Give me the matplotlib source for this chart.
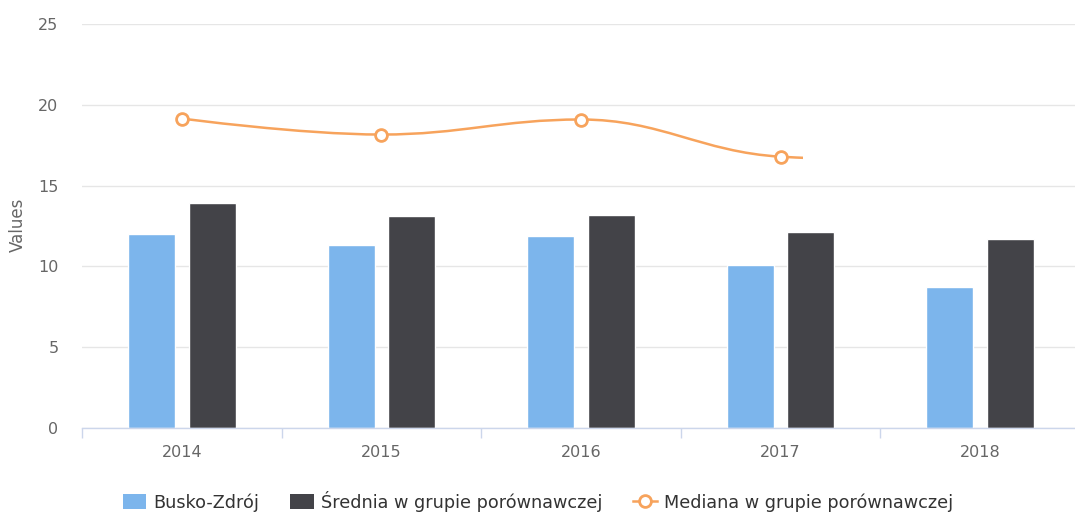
"""Busko-Zdrój vs comparison group: bars plus median spline."""

import numpy as np
import matplotlib
matplotlib.use("Agg")
import matplotlib.pyplot as plt
from matplotlib.path import Path
from matplotlib.patches import PathPatch, Patch, Rectangle
from matplotlib.lines import Line2D

years = ["2014", "2015", "2016", "2017", "2018"]
busko = [12.0, 11.32, 11.88, 10.07, 8.71]
srednia = [13.93, 13.12, 13.18, 12.13, 11.69]
mediana = [19.15, 18.16, 19.09, 16.79, 16.5]  # 2018 only partly drawn in source

labels = ["Busko-Zdrój", "Średnia w grupie porównawczej", "Mediana w grupie porównawczej"]
colors = ["#7cb5ec", "#434348", "#f7a35c"]
yticks = [0, 5, 10, 15, 20, 25]


def spline_path(xs, ys, smoothing=1.5):
    """Highcharts-style spline as a cubic bezier path."""
    n = len(xs)
    denom = smoothing + 1
    lc = [(x, y) for x, y in zip(xs, ys)]
    rc = [(x, y) for x, y in zip(xs, ys)]
    for i in range(1, n - 1):
        x, y = xs[i], ys[i]
        lx, ly = (smoothing * x + xs[i - 1]) / denom, (smoothing * y + ys[i - 1]) / denom
        rx, ry = (smoothing * x + xs[i + 1]) / denom, (smoothing * y + ys[i + 1]) / denom
        if rx != lx:
            corr = (ry - ly) * (rx - x) / (rx - lx) + y - ry
            ly += corr
            ry += corr
        if ly > ys[i - 1] and ly > y:
            ly = max(ys[i - 1], y)
            ry = 2 * y - ly
        elif ly < ys[i - 1] and ly < y:
            ly = min(ys[i - 1], y)
            ry = 2 * y - ly
        if ry > ys[i + 1] and ry > y:
            ry = max(ys[i + 1], y)
            ly = 2 * y - ry
        elif ry < ys[i + 1] and ry < y:
            ry = min(ys[i + 1], y)
            ly = 2 * y - ry
        lc[i] = (lx, ly)
        rc[i] = (rx, ry)
    verts = [(xs[0], ys[0])]
    codes = [Path.MOVETO]
    for i in range(1, n):
        verts += [rc[i - 1], lc[i], (xs[i], ys[i])]
        codes += [Path.CURVE4] * 3
    return Path(verts, codes)


fig = plt.figure(figsize=(10.75, 5.14), dpi=100)
ax = fig.add_axes([82 / 1075, 86 / 514, 998 / 1075, 404 / 514])

x = np.arange(len(years))
bw = 0.235
off = 0.152
ax.bar(x - off, busko, bw, color=colors[0], edgecolor="white", linewidth=1, zorder=2)
ax.bar(x + off, srednia, bw, color=colors[1], edgecolor="white", linewidth=1, zorder=2)

# line was caught mid-animation: clip just past 2017
clip = Rectangle((-0.5, 0), 3.61, 25, transform=ax.transData)
patch = PathPatch(spline_path(list(x), mediana), facecolor="none",
                  edgecolor=colors[2], linewidth=1.8, zorder=3)
ax.add_patch(patch)
patch.set_clip_path(clip)
pts, = ax.plot(x, mediana, linestyle="none", marker="o", markersize=8.5,
               markerfacecolor="white", markeredgecolor=colors[2],
               markeredgewidth=2, zorder=4)
pts.set_clip_path(clip)

ax.set_xlim(-0.5, 4.5)
ax.set_ylim(0, 25)
ax.set_yticks(yticks)
ax.set_xticks(x)
ax.set_xticklabels(years)
ax.set_xticks(np.arange(-0.5, 5.0, 1.0), minor=True)
ax.tick_params(axis="x", which="major", length=0, pad=12, labelsize=11.5, labelcolor="#666666")
ax.tick_params(axis="x", which="minor", length=7, width=1, color="#ccd6eb", direction="out")
ax.tick_params(axis="y", length=0, pad=17, labelsize=11.5, labelcolor="#666666")
ax.grid(axis="y", color="#e6e6e6", linewidth=1, zorder=0)
ax.set_axisbelow(True)
for side in ["top", "right", "left"]:
    ax.spines[side].set_visible(False)
ax.spines["bottom"].set_color("#ccd6eb")
ax.spines["bottom"].set_linewidth(1)
ax.spines["bottom"].set_zorder(5)

fig.text(18 / 1075, 1 - 225 / 514, "Values", rotation=90, ha="center", va="center",
         fontsize=12, color="#666666")

handles = [
    Patch(facecolor=colors[0], edgecolor="none"),
    Patch(facecolor=colors[1], edgecolor="none"),
    Line2D([], [], color=colors[2], linewidth=1.8, marker="o", markersize=8.5,
           markerfacecolor="white", markeredgecolor=colors[2], markeredgewidth=2),
]
fig.legend(handles, labels, loc="center", bbox_to_anchor=(538 / 1075, 1 - 501 / 514),
           ncol=3, frameon=False, fontsize=12.7, labelcolor="#333333",
           handlelength=1.35, handleheight=1.0, handletextpad=0.4, columnspacing=1.75)

fig.savefig("out.png", dpi=100)
